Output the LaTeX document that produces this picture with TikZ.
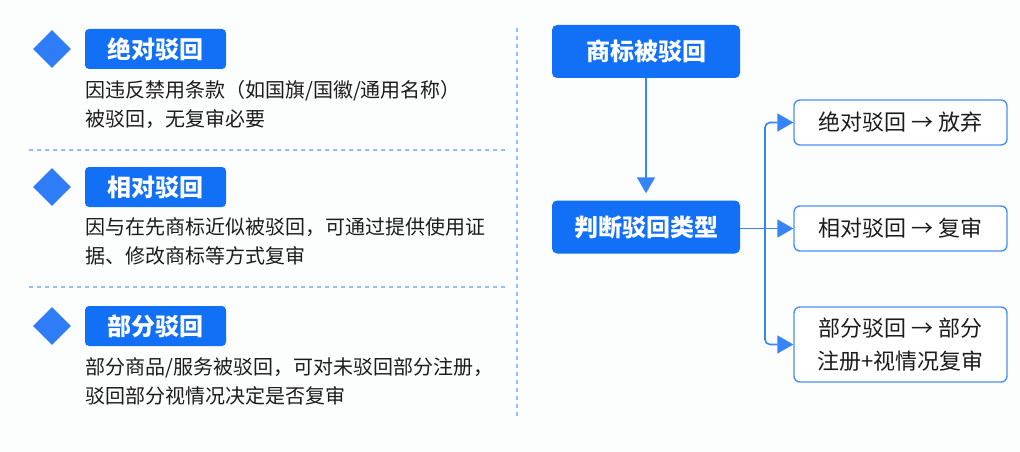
\documentclass[tikz,border=0pt]{standalone}
\usepackage{fontspec}
\setmainfont{Noto Sans CJK SC}
\usepackage{tikz}
\usetikzlibrary{arrows.meta,shapes.geometric,positioning}

\definecolor{tagblue}{HTML}{1170F5}
\definecolor{gemblue}{HTML}{2F7DF6}
\definecolor{lineblue}{HTML}{3585F6}
\definecolor{edgeblue}{HTML}{4A90F5}
\definecolor{dashblue}{HTML}{93BEF7}
\definecolor{ink}{HTML}{1C1C1C}
\definecolor{paper}{HTML}{FCFDFD}

\tikzset{
  gem/.style={shape=diamond,fill=gemblue,minimum size=38pt,inner sep=0pt},
  tag/.style={fill=tagblue,rounded corners=4pt,text=white,inner sep=0pt,
    minimum width=141pt,minimum height=40pt,
    font=\fontsize{24}{28}\selectfont\bfseries},
  desc/.style={anchor=north west,align=left,inner sep=0pt,text=ink,
    font=\fontsize{20}{29}\selectfont},
  flowbox/.style={fill=tagblue,rounded corners=5pt,text=white,inner sep=0pt,
    minimum width=188pt,minimum height=53pt,
    font=\fontsize{24}{28}\selectfont\bfseries},
  pickbox/.style={draw=edgeblue,line width=1.4pt,fill=white,rounded corners=6pt,
    inner sep=0pt,minimum width=213pt,minimum height=45pt,align=center,
    text=ink,font=\fontsize{22}{33}\selectfont},
  link/.style={draw=lineblue,line width=1.6pt},
  sep/.style={draw=dashblue,line width=1.2pt,dash pattern=on 4pt off 4pt}
}

\begin{document}
\begin{tikzpicture}[x=1pt,y=-1pt]
\begin{scope}[>={Triangle[length=16pt,width=18pt]}]

    \fill[paper] (0,0) rectangle (1020,452);
    \useasboundingbox (0,0) rectangle (1020,452);

    % left column: three kinds
    \node[gem] (gem1) at (52,49) {};
    \node[tag] (tag1) at (155.5,49) {绝对驳回};
    \node[desc] (desc1) at (85,80) {因违反禁用条款（如国旗/国徽/通用名称）\\被驳回，无复审必要};

    \draw[sep] (29,150) -- (505,150);

    \node[gem] (gem2) at (52,187) {};
    \node[tag] (tag2) at (155.5,187) {相对驳回};
    \node[desc] (desc2) at (85,217) {因与在先商标近似被驳回，可通过提供使用证\\据、修改商标等方式复审};

    \draw[sep] (29,287) -- (505,287);

    \node[gem] (gem3) at (52,326) {};
    \node[tag] (tag3) at (155.5,326) {部分驳回};
    \node[desc] (desc3) at (85,357) {部分商品/服务被驳回，可对未驳回部分注册，\\驳回部分视情况决定是否复审};

    \draw[sep] (517,28) -- (517,418);

    % right column: flow
    \node[flowbox] (rejected) at (646,51.5) {商标被驳回};
    \node[flowbox] (judge) at (646,227) {判断驳回类型};

    \node[pickbox] (pick1) at (900.5,122.5) {绝对驳回 → 放弃};
    \node[pickbox] (pick2) at (900.5,228.5) {相对驳回 → 复审};
    \node[pickbox,minimum height=75pt] (pick3) at (900.5,344.5) {部分驳回 → 部分\\注册+视情况复审};

    \coordinate (fork) at (765,228.5);

    \draw[link,->,shorten >=7pt] (rejected) -- (judge);
    \draw[link,->] (judge.east |- pick2) -- (pick2);
    \draw[link,->,rounded corners=5pt] (fork) |- (pick1);
    \draw[link,->,rounded corners=5pt] (fork) |- (pick3);

\end{scope}
\end{tikzpicture}
\end{document}
